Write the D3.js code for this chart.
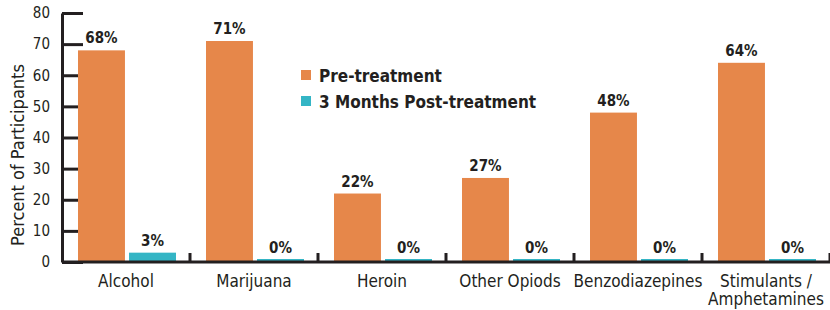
<!DOCTYPE html>
<html>
<head>
<meta charset="utf-8">
<script src="https://cdn.jsdelivr.net/npm/d3@7"></script>
<style>
  body { margin: 0; background: #fff; }
  svg text { font-family: "DejaVu Sans Condensed", "DejaVu Sans", sans-serif; font-stretch: condensed; fill: #231f20; }
</style>
</head>
<body>
<script>
var categories = ["Alcohol", "Marijuana", "Heroin", "Other Opiods", "Benzodiazepines", "Stimulants / Amphetamines"];
var seriesNames = ["Pre-treatment", "3 Months Post-treatment"];
var preTreatment = [68, 71, 22, 27, 48, 64];
var postTreatment = [3, 0, 0, 0, 0, 0];
var yTicks = [0, 10, 20, 30, 40, 50, 60, 70, 80];
var colors = ["#e6874a", "#34b5c5"];

var w = 830, h = 310;
var mLeft = 62, mRight = 830, mTop = 13, mBottom = 262;
var ink = "#231f20";

var rows = categories.map(function(c, i){
  return { cat: c, values: [preTreatment[i], postTreatment[i]] };
});

var svg = d3.select("body").append("svg")
  .attr("width", w)
  .attr("height", h);

var x = d3.scaleBand().domain(categories).range([mLeft, mRight]);
var xs = d3.scaleBand().domain(seriesNames).range([16, 114]).paddingInner(0.08);
var y = d3.scaleLinear().domain([0, 80]).range([mBottom, mTop]);

/* y axis, ticks point inward */
var yAxis = svg.append("g")
  .attr("transform", "translate(" + mLeft + ",0)")
  .call(d3.axisLeft(y).tickValues(yTicks).tickSize(-21).tickSizeOuter(0).tickPadding(12));
yAxis.select(".domain").attr("stroke", ink).attr("stroke-width", 3);
yAxis.selectAll(".tick line").attr("stroke", ink).attr("stroke-width", 3);
yAxis.selectAll(".tick text").attr("font-size", 15).attr("fill", "#333").style("font-family", null);

/* bars */
var groups = svg.selectAll("g.cat")
  .data(rows)
  .enter()
  .append("g")
  .attr("class", "cat")
  .attr("transform", function(d){ return "translate(" + x(d.cat) + ",0)"; });

groups.selectAll("rect")
  .data(function(d){ return d.values.map(function(v, i){ return { s: seriesNames[i], v: v, i: i }; }); })
  .enter()
  .append("rect")
  .attr("x", function(d){ return xs(d.s); })
  .attr("y", function(d){ return Math.min(y(d.v), mBottom - 3); })
  .attr("width", xs.bandwidth())
  .attr("height", function(d){ return Math.max(mBottom - y(d.v), 3); })
  .attr("fill", function(d){ return colors[d.i]; });

groups.selectAll("text.val")
  .data(function(d){ return d.values.map(function(v, i){ return { s: seriesNames[i], v: v }; }); })
  .enter()
  .append("text")
  .attr("class", "val")
  .attr("x", function(d){ return xs(d.s) + xs.bandwidth() / 2; })
  .attr("y", function(d){ return Math.min(y(d.v), mBottom - 2) - 7; })
  .attr("text-anchor", "middle")
  .attr("font-size", 15)
  .attr("font-weight", "bold")
  .text(function(d){ return d.v + "%"; });

/* x axis line */
svg.append("line")
  .attr("x1", mLeft).attr("x2", mRight)
  .attr("y1", mBottom).attr("y2", mBottom)
  .attr("stroke", ink).attr("stroke-width", 3);

/* separators between categories */
svg.selectAll("line.sep")
  .data(categories)
  .enter()
  .append("line")
  .attr("class", "sep")
  .attr("x1", function(d){ return x(d) + x.bandwidth(); })
  .attr("x2", function(d){ return x(d) + x.bandwidth(); })
  .attr("y1", mBottom - 9).attr("y2", mBottom)
  .attr("stroke", ink).attr("stroke-width", 3);

/* category labels */
var catLabels = svg.selectAll("text.catlab")
  .data(categories)
  .enter()
  .append("text")
  .attr("class", "catlab")
  .attr("text-anchor", "middle")
  .attr("font-size", 17)
  .attr("y", 287);

catLabels.selectAll("tspan")
  .data(function(d){ return d.split(/(?<=\/) /).map(function(t){ return { t: t, c: d }; }); })
  .enter()
  .append("tspan")
  .attr("x", function(d){ return x(d.c) + x.bandwidth() / 2; })
  .attr("dy", function(d, i){ return i === 0 ? 0 : 18; })
  .text(function(d){ return d.t; });

/* y label */
svg.append("text")
  .attr("transform", "translate(24,155) rotate(-90)")
  .attr("text-anchor", "middle")
  .attr("font-size", 18)
  .text("Percent of Participants");

/* legend */
var legend = svg.selectAll("g.legend")
  .data(seriesNames)
  .enter()
  .append("g")
  .attr("class", "legend")
  .attr("transform", function(d, i){ return "translate(301," + (70 + i * 26) + ")"; });

legend.append("rect")
  .attr("width", 10).attr("height", 10)
  .attr("fill", function(d, i){ return colors[i]; });

legend.append("text")
  .attr("x", 18).attr("y", 12)
  .attr("font-size", 17)
  .attr("font-weight", "bold")
  .text(function(d){ return d; });
</script>
</body>
</html>
